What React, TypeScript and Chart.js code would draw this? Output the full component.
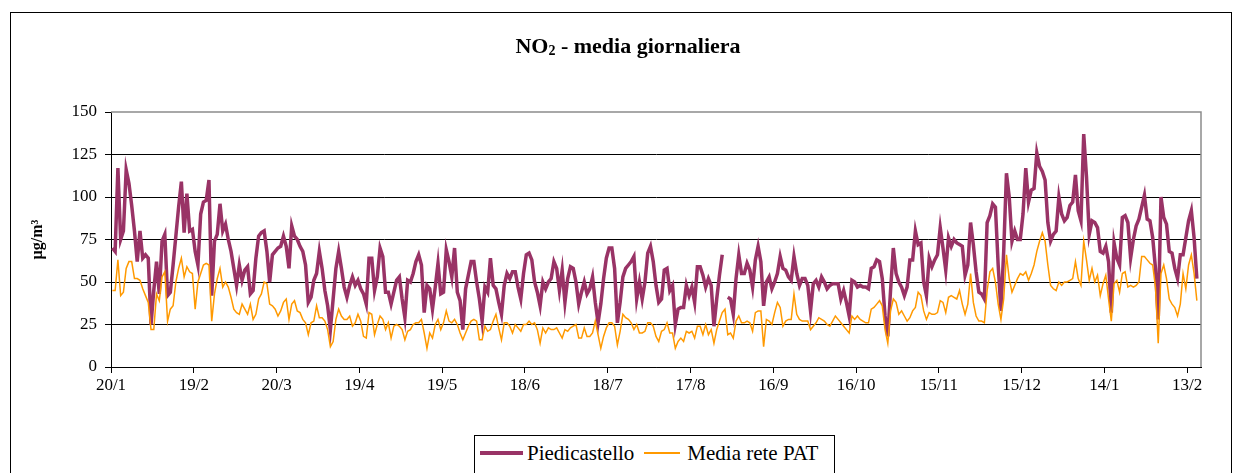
import React, { useEffect, useRef } from "react";
import { Chart, registerables } from "chart.js";

Chart.register(...registerables);

// x-axis tick labels, one every 30 days starting 20/1
const tickLabels = ["20/1", "19/2", "20/3", "19/4", "19/5", "18/6", "18/7", "17/8", "16/9", "16/10", "15/11", "15/12", "14/1", "13/2"];
const tickStepDays = 30;
const axisDays = 395;

const seriesNames = ["Piedicastello", "Media rete PAT"];

// daily NO2 values (µg/m³), Piedicastello station
const piedicastello: (number | null)[] = [
  70, 68, 117, 75, 80, 116, 108, 95, 80, 62,
  80, 64, 66, 64, 25, 45, 62, 43, 74, 78,
  42, 44, 60, 77, 94, 109, 79, 102, 80, 81,
  68, 60, 90, 97, 98, 110, 42, 74, 78, 96,
  80, 84, 75, 68, 58, 48, 60, 51, 57, 59,
  43, 45, 64, 77, 79, 80, 68, 50, 66, 68,
  70, 71, 77, 71, 58, 83, 77, 75, 71, 68,
  60, 38, 41, 51, 55, 68, 58, 45, 36, 22,
  40, 58, 68, 58, 47, 41, 48, 53, 48, 51,
  46, 43, 37, 64, 64, 45, 53, 70, 65, 44,
  44, 37, 44, 51, 53, 40, 29, 51, 50, 55,
  62, 66, 60, 32, 48, 46, 34, 47, 61, 43,
  44, 69, 62, 53, 70, 44, 39, 22, 46, 54,
  62, 62, 50, 40, 27, 47, 44, 64, 48, 46,
  38, 31, 48, 55, 52, 56, 56, 47, 40, 55,
  66, 67, 63, 50, 44, 36, 50, 46, 50, 52,
  62, 58, 45, 57, 38, 52, 59, 58, 50, 37,
  44, 50, 43, 46, 53, 38, 26, 37, 52, 64,
  70, 70, 58, 26, 38, 53, 58, 60, 62, 65,
  40, 50, 40, 50, 67, 71, 62, 48, 38, 40,
  57, 58, 45, 48, 25, 34, 35, 35, 48, 42,
  47, 38, 59, 59, 54, 47, 52, 48, 24, 40,
  54, 66, null, 41, 40, 31, 52, 66, 55, 55,
  61, 57, 47, 63, 71, 62, 36, 50, 53, 46,
  50, 55, 65, 58, 57, 53, 51, 65, 55, 48,
  52, 52, 48, 33, 49, 51, 47, 53, 50, 46,
  48, 49, 49, 49, 40, 45, 38, 30, 51, 50,
  47, 48, 47, 47, 46, 58, 59, 63, 62, 52,
  30, 18, 45, 70, 55, 50, 47, 42, 47, 63,
  63, 80, 72, 73, 50, 42, 64, 59, 63, 66,
  82, 70, 57, 76, 71, 75, 73, 72, 71, 54,
  60, 85, 72, 56, 44, 43, 40, 85, 89, 96,
  94, 60, 33, 68, 114, 100, 74, 80, 75, 75,
  90, 117, 97, 104, 105, 126, 118, 115, 110, 85,
  74, 78, 80, 100, 90, 86, 88, 95, 97, 113,
  92, 86, 137, 112, 78, 86, 85, 82, 68, 67,
  71, 62, 32, 73, 64, 60, 88, 89, 85, 64,
  75, 83, 87, 94, 101, 87, 86, 76, 58, 28,
  100, 88, 84, 68, 67, 58, 52, 66, 66, 76,
  86, 92, 76, 52,
];

// daily NO2 values (µg/m³), average of the PAT network
const mediaRetePAT: number[] = [
  45, 45, 63, 42, 44, 58, 62, 62, 52, 52,
  51, 46, 42, 38, 22, 22, 43, 39, 53, 56,
  27, 34, 36, 50, 58, 64, 53, 59, 56, 55,
  34, 50, 55, 60, 61, 60, 27, 43, 52, 58,
  47, 50, 47, 41, 34, 32, 31, 37, 34, 31,
  37, 28, 31, 40, 43, 50, 49, 37, 36, 34,
  30, 33, 38, 40, 28, 37, 39, 33, 32, 28,
  26, 19, 26, 27, 36, 29, 29, 27, 22, 12,
  15, 28, 34, 30, 28, 28, 30, 24, 26, 31,
  27, 18, 17, 32, 31, 19, 25, 30, 28, 22,
  26, 17, 24, 25, 24, 22, 16, 21, 22, 25,
  26, 26, 28, 20, 11, 20, 17, 25, 28, 22,
  26, 33, 27, 26, 28, 25, 20, 16, 20, 24,
  27, 28, 27, 16, 16, 24, 21, 22, 27, 31,
  23, 16, 26, 26, 24, 20, 25, 23, 21, 25,
  25, 27, 25, 26, 22, 14, 23, 20, 23, 22,
  22, 23, 20, 17, 22, 21, 23, 24, 25, 17,
  17, 23, 18, 18, 20, 27, 19, 11, 18, 23,
  26, 26, 24, 13, 21, 31, 29, 28, 26, 22,
  25, 20, 20, 21, 26, 26, 24, 18, 15, 21,
  22, 26, 20, 20, 11, 15, 17, 15, 21, 20,
  21, 17, 24, 24, 19, 25, 19, 22, 14, 22,
  27, 32, 34, 19, 20, 17, 27, 30, 26, 26,
  27, 26, 21, 32, 33, 33, 12, 28, 27, 25,
  32, 38, 35, 24, 27, 28, 28, 43, 31, 28,
  27, 27, 27, 22, 24, 26, 29, 28, 27, 25,
  24, 27, 30, 28, 26, 24, 22, 20, 30, 28,
  30, 28, 27, 26, 26, 34, 35, 37, 39, 36,
  22, 14, 33, 40, 38, 31, 33, 30, 27, 29,
  33, 35, 44, 42, 33, 28, 32, 31, 31, 32,
  39, 38, 32, 41, 42, 41, 40, 45, 37, 31,
  37, 55, 38, 30, 27, 27, 26, 45, 56, 58,
  50, 37, 28, 40, 66, 52, 44, 48, 52, 55,
  54, 56, 51, 55, 60, 68, 74, 79, 74, 60,
  48, 46, 45, 50, 48, 50, 50, 51, 52, 62,
  52, 48, 74, 63, 51, 58, 50, 54, 42, 49,
  54, 40, 27, 49, 51, 44, 55, 56, 47, 48,
  47, 48, 50, 65, 65, 63, 61, 60, 47, 14,
  55, 60, 52, 40, 37, 35, 30, 37, 55, 46,
  60, 66, 55, 39,
];

const yMin = 0;
const yMax = 150;
const yStep = 25;

const FONT = "'Liberation Serif', 'Times New Roman', Times, serif";
const PURPLE = "#993366";
const ORANGE = "#FF9900";

export default function App() {
  const ref = useRef<HTMLCanvasElement>(null);

  useEffect(() => {
    if (!ref.current) return;
    const toPts = (arr: (number | null)[]) => arr.map((v, i) => ({ x: i + 0.5, y: v }));

    const framePlugin = {
      id: "frame",
      beforeDraw(chart: any) {
        const ctx = chart.ctx;
        ctx.save();
        ctx.fillStyle = "#fff";
        ctx.fillRect(0, 0, chart.width, chart.height);
        ctx.strokeStyle = "#000";
        ctx.lineWidth = 1;
        ctx.strokeRect(10.5, 12.5, 1221, 500);
        ctx.restore();
      },
      beforeDatasetsDraw(chart: any) {
        const { ctx, chartArea } = chart;
        ctx.save();
        ctx.strokeStyle = "#8c8c8c";
        ctx.lineWidth = 1.5;
        ctx.beginPath();
        ctx.moveTo(chartArea.left, chartArea.top);
        ctx.lineTo(chartArea.right, chartArea.top);
        ctx.lineTo(chartArea.right, chartArea.bottom);
        ctx.stroke();
        ctx.restore();
      },
    };

    const chart = new Chart(ref.current, {
      type: "line",
      data: {
        datasets: [
          {
            label: seriesNames[0],
            data: toPts(piedicastello),
            borderColor: PURPLE,
            backgroundColor: PURPLE,
            borderWidth: 3.5,
            pointRadius: 0,
            tension: 0,
            spanGaps: false,
            order: 1,
          },
          {
            label: seriesNames[1],
            data: toPts(mediaRetePAT),
            borderColor: ORANGE,
            backgroundColor: ORANGE,
            borderWidth: 1.5,
            pointRadius: 0,
            tension: 0,
            order: 0,
          },
        ],
      },
      options: {
        responsive: false,
        maintainAspectRatio: false,
        animation: false,
        events: [],
        layout: { padding: { left: 24, right: 33, top: 112, bottom: 76 } },
        plugins: {
          legend: { display: false },
          title: { display: false },
          tooltip: { enabled: false },
        },
        scales: {
          x: {
            type: "linear",
            min: 0,
            max: axisDays,
            afterBuildTicks: (s: any) => {
              s.ticks = tickLabels.map((_, i) => ({ value: i * tickStepDays }));
            },
            afterFit: (s: any) => {
              s.height = 30;
            },
            ticks: {
              autoSkip: false,
              maxRotation: 0,
              minRotation: 0,
              padding: 2,
              color: "#000",
              font: { family: FONT, size: 17 },
              callback: (v: any) => tickLabels[Math.round(Number(v) / tickStepDays)] ?? "",
            },
            grid: {
              drawOnChartArea: false,
              drawTicks: true,
              tickLength: 6,
              color: "#000",
              tickColor: "#000",
            },
            border: { display: true, color: "#000", width: 1 },
          },
          y: {
            min: yMin,
            max: yMax,
            afterFit: (s: any) => {
              s.width = 87;
            },
            ticks: {
              stepSize: yStep,
              padding: 8,
              color: "#000",
              font: { family: FONT, size: 17 },
            },
            grid: {
              color: (c: any) => (c.tick && c.tick.value === yMax ? "rgba(0,0,0,0)" : "#000"),
              tickColor: "#000",
              tickLength: 6,
              lineWidth: 1,
            },
            border: { display: true, color: "#000", width: 1 },
            title: {
              display: true,
              text: "µg/m³",
              color: "#000",
              padding: 4,
              font: { family: FONT, size: 16, weight: "bold" },
            },
          },
        },
      },
      plugins: [framePlugin],
    } as any);

    return () => chart.destroy();
  }, []);

  return (
    <div style={{ position: "absolute", left: 0, top: 0, width: 1234, height: 473, overflow: "hidden", background: "#fff" }}>
      <canvas ref={ref} width={1234} height={473} style={{ display: "block", width: 1234, height: 473 }} />
      <div
        style={{
          position: "absolute",
          left: 0,
          width: 1256,
          top: 32,
          textAlign: "center",
          fontFamily: FONT,
          fontWeight: "bold",
          fontSize: 22,
          lineHeight: "28px",
          color: "#000",
        }}
      >
        NO<sub style={{ fontSize: 14, verticalAlign: "-2px" }}>2</sub> - media giornaliera
      </div>
      <div
        style={{
          position: "absolute",
          left: 474,
          top: 435,
          width: 359,
          height: 60,
          border: "1px solid #000",
          background: "#fff",
          fontFamily: FONT,
          fontSize: 21,
          color: "#000",
        }}
      >
        <div style={{ position: "absolute", left: 5, top: 0, height: 34, display: "flex", alignItems: "center", whiteSpace: "nowrap" }}>
          <span style={{ display: "inline-block", width: 43, height: 4, background: PURPLE, marginRight: 4 }} />
          <span>{seriesNames[0]}</span>
          <span style={{ display: "inline-block", width: 36, height: 2, background: ORANGE, marginLeft: 10, marginRight: 7 }} />
          <span>{seriesNames[1]}</span>
        </div>
      </div>
    </div>
  );
}
